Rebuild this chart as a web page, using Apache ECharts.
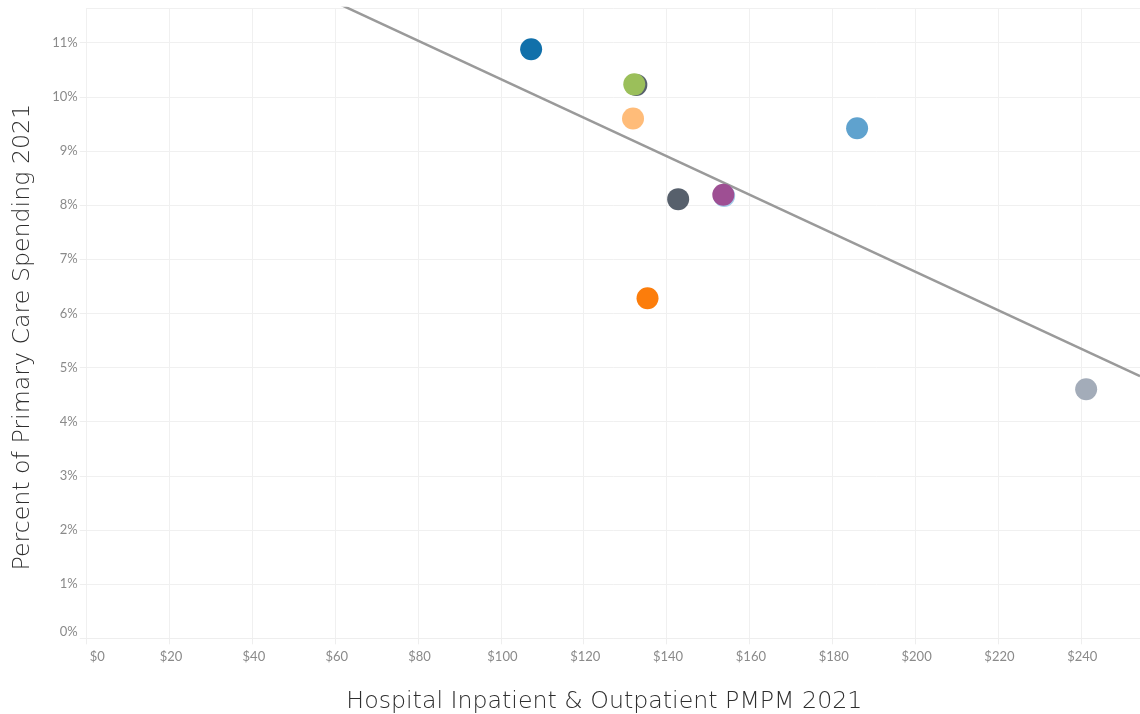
<!DOCTYPE html>
<html>
<head>
<meta charset="utf-8">
<script src="https://cdn.jsdelivr.net/npm/echarts@6/dist/echarts.min.js"></script>
<style>
html,body{margin:0;padding:0;background:#fff;}
#chart{width:1140px;height:714px;}
</style>
</head>
<body>
<div id="chart"></div>
<script>
// Data
const pmpm = [107.3, 132.7, 132.2, 131.9, 142.8, 153.9, 153.7, 135.4, 186.0, 241.3];
const primaryPct = [10.88, 10.22, 10.23, 9.60, 8.11, 8.17, 8.19, 6.28, 9.42, 4.60];
const pointColors = ['#1170aa', '#57606c', '#9bbf5a', '#ffbc79', '#57606c', '#a3cce9', '#9e4f93', '#fc7d0b', '#5fa2ce', '#a3acb9'];
const trendX = [0, 254.3];
const trendY = [13.88, 4.84];
const xTitle = 'Hospital Inpatient & Outpatient PMPM 2021';
const yTitle = 'Percent of Primary Care Spending 2021';

const chart = echarts.init(document.getElementById('chart'), null, {renderer: 'canvas'});
const labelFont = {color: '#8a8a8a', fontSize: 13, fontFamily: 'Lato'};
const titleFont = {fontFamily: 'DejaVu Sans', fontWeight: 300, fontSize: 23.7, color: '#2e2e2e'};
chart.setOption({
  animation: false,
  grid: {left: 86.7, right: 0, top: 8, bottom: 75.7, containLabel: false, outerBoundsMode: 'none'},
  xAxis: {
    type: 'value', min: 0, max: 254.3, interval: 20,
    name: xTitle, nameLocation: 'middle', nameGap: 52,
    nameTextStyle: Object.assign({padding: [0, 18, 0, 0]}, titleFont),
    axisLine: {show: true, lineStyle: {color: '#eeeeee'}},
    axisTick: {show: true, length: 6, lineStyle: {color: '#eeeeee'}},
    splitLine: {show: true, lineStyle: {color: '#f0f0f0'}},
    axisLabel: Object.assign({margin: 12, formatter: v => '$' + v, alignMinLabel: 'left', showMaxLabel: false, padding: [0, 0, 0, 3]}, labelFont)
  },
  yAxis: {
    type: 'value', min: 0, max: 11.64, interval: 1,
    name: yTitle, nameLocation: 'middle', nameGap: 52, nameRotate: 90,
    nameTextStyle: Object.assign({padding: [0, 28, 0, 0]}, titleFont),
    axisLine: {show: false},
    axisTick: {show: true, length: 7, lineStyle: {color: '#eeeeee'}},
    splitLine: {show: true, lineStyle: {color: '#f0f0f0'}},
    axisLabel: Object.assign({margin: 9, formatter: v => v + '%', verticalAlignMinLabel: 'bottom', showMaxLabel: false}, labelFont)
  },
  series: [
    {
      type: 'line', data: trendX.map((x, i) => [x, trendY[i]]),
      symbol: 'none', lineStyle: {color: '#9a9a9a', width: 2.5}, clip: true, z: 1
    },
    {
      type: 'scatter', symbolSize: 22, z: 2,
      data: pmpm.map((x, i) => ({value: [x, primaryPct[i]], itemStyle: {color: pointColors[i], opacity: 1}}))
    }
  ]
});
</script>
</body>
</html>
